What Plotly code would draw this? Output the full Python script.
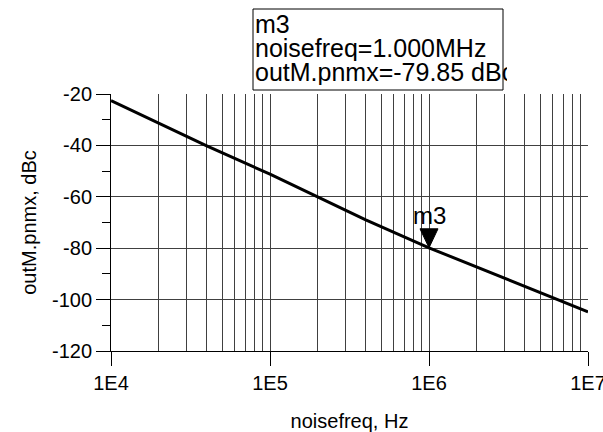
import math
import plotly.graph_objects as go

# ---- data ----
freq = [1e4, 2e4, 4e4, 1e5, 2e5, 4e5, 1e6, 2e6, 4e6, 1e7]
pnmx = [-22.6, -31.4, -40.2, -51.2, -60.0, -69.0, -79.85, -87.3, -94.8, -104.8]

marker_name = "m3"
marker_freq = 1e6
marker_val = -79.85
marker_lines = ["m3", "noisefreq=1.000MHz", "outM.pnmx=-79.85 dBc"]

x_tickvals = [1e4, 1e5, 1e6, 1e7]
x_ticktext = ["1E4", "1E5", "1E6", "1E7"]
y_tickvals = [-120, -100, -80, -60, -40, -20]
y_ticktext = ["-120", "-100", "-80", "-60", "-40", "-20"]

# ---- layout geometry (pixels) ----
W, H = 603, 432
L, R, T, B = 111, 15, 94, 81
PW, PH = W - L - R, H - T - B
FONT = "Liberation Sans, Arial, sans-serif"
GRID = "#404040"


def px_x(px):
    return (px - L) / PW


def px_y(py):
    return (H - B - py) / PH


minor_x = [m * 10 ** d for d in range(4, 7) for m in range(2, 10)]

fig = go.Figure()
fig.add_trace(go.Scatter(x=freq, y=pnmx, mode="lines",
                         line=dict(color="black", width=3),
                         showlegend=False, hoverinfo="skip"))

fig.update_xaxes(type="log", range=[4, 7],
                 tickvals=x_tickvals, ticktext=x_ticktext,
                 ticklabeloverflow="allow",
                 ticks="outside", ticklen=14, tickcolor="black", tickwidth=1,
                 showline=True, linecolor="black", linewidth=1,
                 showgrid=True, gridcolor=GRID, gridwidth=1,
                 minor=dict(tickvals=minor_x, showgrid=True, gridcolor=GRID,
                            gridwidth=1, ticks=""),
                 tickfont=dict(family=FONT, size=20, color="black"),
                 title=dict(text="noisefreq, Hz", standoff=22,
                            font=dict(family=FONT, size=20, color="black")),
                 zeroline=False)

fig.update_yaxes(range=[-120, -20], tickvals=y_tickvals, ticktext=y_ticktext,
                 ticks="outside", ticklen=14, tickcolor="black", tickwidth=1,
                 showline=True, linecolor="black", linewidth=1,
                 showgrid=True, gridcolor=GRID, gridwidth=1,
                 minor=dict(dtick=10, ticks="outside", ticklen=8,
                            tickcolor="black", showgrid=False),
                 tickfont=dict(family=FONT, size=20, color="black"),
                 title=dict(text="outM.pnmx, dBc", standoff=9,
                            font=dict(family=FONT, size=20, color="black")),
                 zeroline=False)

# marker triangle (tip at the marker point)
fig.add_shape(type="path", xref="x", yref="y",
              xsizemode="pixel", ysizemode="pixel",
              xanchor=marker_freq, yanchor=marker_val,
              path="M-9,19 L9,19 L0,0 Z",
              fillcolor="black", line=dict(color="black", width=1))

fig.add_annotation(x=math.log10(marker_freq), y=marker_val, xref="x", yref="y",
                   text=marker_name, showarrow=False, yshift=32,
                   xanchor="center", yanchor="middle",
                   font=dict(family=FONT, size=24, color="black"))

# marker readout box
box_l, box_r, box_t, box_b = 253, 503, 9, 90
fig.add_shape(type="rect", xref="paper", yref="paper",
              x0=px_x(box_l), x1=px_x(box_r), y0=px_y(box_b), y1=px_y(box_t),
              line=dict(color="black", width=1), fillcolor="white", layer="above")
line_centers = [23.6, 47.6, 71.6]
for txt, cy in zip(marker_lines, line_centers):
    fig.add_annotation(x=px_x(box_l), y=px_y(cy), xref="paper", yref="paper",
                       text=txt, showarrow=False, xanchor="left", yanchor="middle",
                       align="left", width=box_r - box_l + 2, height=26,
                       font=dict(family=FONT, size=25, color="black"))

fig.update_layout(width=W, height=H,
                  margin=dict(l=L, r=R, t=T, b=B, autoexpand=False),
                  paper_bgcolor="white", plot_bgcolor="white",
                  font=dict(family=FONT, color="black"),
                  showlegend=False)

fig.write_html("out.html")
